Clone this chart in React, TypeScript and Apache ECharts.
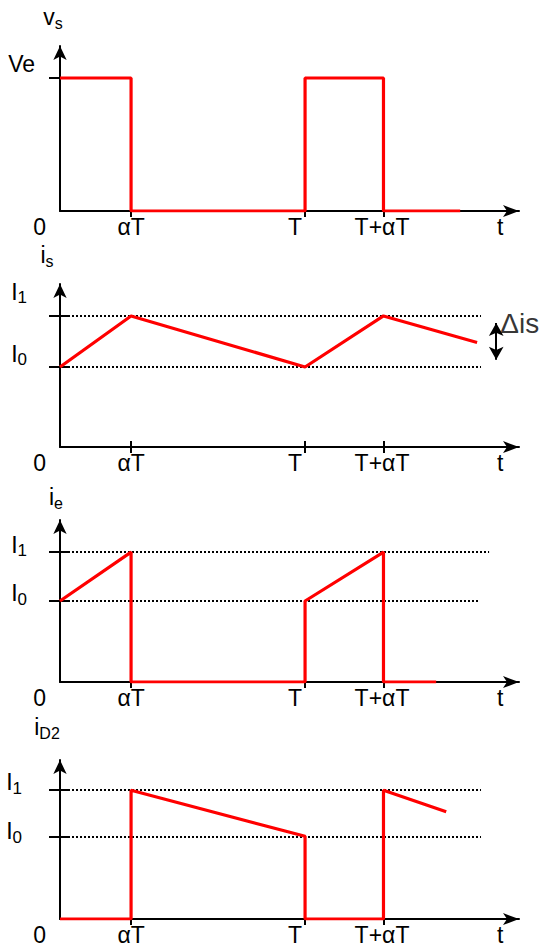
import React, { useEffect, useRef } from "react";
import * as echarts from "echarts";

const FONT = '"Liberation Sans", Arial, Helvetica, sans-serif';

// time axis (T = 1)
const xTicks = [0.29, 1, 1.32];
const xLabelPos = [0.29, 0.959, 1.314, 1.796];
const xLabels = ["αT", "T", "T+αT", "t"];
const xMax = 1.873;

// panel names
const panelNames = ["v{s|s}", "i{s|s}", "i{s|e}", "i{s|D2}"];

// vs
const vsData = [[0, 0.806], [0.29, 0.806], [0.29, 0], [1, 0], [1, 0.806], [1.32, 0.806], [1.32, 0], [1.633, 0]];
const vsTicks = [0.806];
const vsLabelPos = [0.891];
const vsLabels = ["Ve"];
const vsLevels: number[][] = [];

// is
const isData = [[0, 0.491], [0.29, 0.804], [1, 0.491], [1.32, 0.804], [1.702, 0.641]];
const isTicks = [0.491, 0.804];
const isLabelPos = [0.571, 0.951];
const isLabels = ["I{s|0}", "I{s|1}"];
const isLevels = [[0.491, 1.718], [0.804, 1.718]];
const deltaArrow = [[1.78, 0.535], [1.78, 0.761]];
const deltaLabel = [[1.78, 0.755]];

// ie
const ieData = [[0, 0.5], [0.29, 0.802], [0.29, 0], [1, 0], [1, 0.5], [1.32, 0.802], [1.32, 0], [1.535, 0]];
const ieTicks = [0.5, 0.802];
const ieLabelPos = [0.549, 0.846];
const ieLabels = ["I{s|0}", "I{s|1}"];
const ieLevels = [[0.5, 1.71], [0.802, 1.751]];

// iD2
const idData = [[0, 0], [0.29, 0], [0.29, 0.81], [1, 0.52], [1, 0], [1.32, 0], [1.32, 0.81], [1.576, 0.675]];
const idTicks = [0.52, 0.81];
const idLabelPos = [0.552, 0.859];
const idLabels = ["I{s|0}", "I{s|1}"];
const idLevels = [[0.52, 1.718], [0.81, 1.718]];

const panels = [
  { data: vsData, ticks: vsTicks, labelPos: vsLabelPos, labels: vsLabels, levels: vsLevels },
  { data: isData, ticks: isTicks, labelPos: isLabelPos, labels: isLabels, levels: isLevels },
  { data: ieData, ticks: ieTicks, labelPos: ieLabelPos, labels: ieLabels, levels: ieLevels },
  { data: idData, ticks: idTicks, labelPos: idLabelPos, labels: idLabels, levels: idLevels },
];

// layout
const gridTops = [46, 284, 520, 760];
const gridHeights = [165, 163, 162, 163];
const yLabelMargins = [25, 33, 33, 38];
const nameGaps = [18, 18, 12, 22];
const nameShift = [14, 26, 8, 26];

const rich = {
  s: { fontSize: 16, fontFamily: FONT, color: "#000", verticalAlign: "bottom" as const, padding: [0, 0, -3, 0] },
};

function buildOption() {
  const grid: any[] = [];
  const xAxis: any[] = [];
  const yAxis: any[] = [];
  const series: any[] = [];

  panels.forEach((p, g) => {
    grid.push({ left: 60, right: 23, top: gridTops[g], height: gridHeights[g] });
    xAxis.push({
      type: "value",
      gridIndex: g,
      min: 0,
      max: xMax,
      position: "bottom",
      axisLine: {
        show: true,
        onZero: false,
        symbol: ["none", "arrow"],
        symbolSize: [9, 16],
        lineStyle: { color: "#000", width: 2 },
      },
      axisTick: { show: true, customValues: xTicks, length: 6, inside: false, lineStyle: { color: "#000", width: 2 } },
      axisLabel: {
        show: true,
        customValues: xLabelPos,
        formatter: (v: number) => xLabels[xLabelPos.indexOf(v)] ?? "",
        color: "#000",
        fontSize: 23,
        fontFamily: FONT,
        margin: 4,
      },
      splitLine: { show: false },
    });
    xAxis.push({
      type: "value",
      gridIndex: g,
      min: 0,
      max: xMax,
      position: "bottom",
      axisLine: { show: false, onZero: false },
      axisTick: { show: true, customValues: xTicks, length: 6, inside: true, lineStyle: { color: "#000", width: 2 } },
      axisLabel: { show: false },
      splitLine: { show: false },
    });
    yAxis.push({
      type: "value",
      gridIndex: g,
      min: 0,
      max: 1,
      position: "left",
      name: panelNames[g],
      nameLocation: "end",
      nameGap: nameGaps[g],
      nameTextStyle: {
        color: "#000",
        fontSize: 23,
        fontFamily: FONT,
        rich,
        padding: [0, nameShift[g], 0, 0],
      },
      axisLine: {
        show: true,
        onZero: false,
        symbol: ["none", "arrow"],
        symbolSize: [10, 14],
        lineStyle: { color: "#000", width: 2 },
      },
      axisTick: { show: true, customValues: p.ticks, length: 11, inside: false, lineStyle: { color: "#000", width: 2 } },
      axisLabel: {
        show: true,
        customValues: p.labelPos,
        formatter: (v: number) => p.labels[p.labelPos.indexOf(v)] ?? "",
        color: "#000",
        fontSize: 23,
        fontFamily: FONT,
        margin: yLabelMargins[g],
        rich: { s: { ...rich.s, fontSize: 17 } },
      },
      splitLine: { show: false },
    });
    yAxis.push({
      type: "value",
      gridIndex: g,
      min: 0,
      max: 1,
      position: "left",
      axisLine: { show: false, onZero: false },
      axisTick: { show: true, customValues: g === 0 ? [] : p.ticks, length: 10, inside: true, lineStyle: { color: "#000", width: 2 } },
      axisLabel: {
        show: true,
        customValues: [0],
        formatter: () => "0",
        color: "#000",
        fontSize: 23,
        fontFamily: FONT,
        margin: 14,
        verticalAlign: "top",
        padding: [4, 0, 0, 0],
      },
      splitLine: { show: false },
    });

    const s: any = {
      type: "line",
      xAxisIndex: 2 * g,
      yAxisIndex: 2 * g,
      data: p.data,
      showSymbol: false,
      symbol: "none",
      lineStyle: { color: "#ff0000", width: 3.2 },
      z: 5,
      silent: true,
    };
    if (p.levels.length) {
      s.markLine = {
        silent: true,
        symbol: "none",
        label: { show: false },
        lineStyle: { color: "#000", type: [2, 2], width: 2 },
        z: 3,
        data: p.levels.map((l) => [{ coord: [0, l[0]] }, { coord: [l[1], l[0]] }]),
      };
    }
    series.push(s);

    if (g === 1) {
      series.push({
        type: "line",
        xAxisIndex: 2,
        yAxisIndex: 2,
        data: [],
        markLine: {
          silent: true,
          symbol: ["arrow", "arrow"],
          symbolSize: [11, 13],
          label: { show: false },
          lineStyle: { color: "#000", type: "solid", width: 2 },
          data: [[{ coord: deltaArrow[0] }, { coord: deltaArrow[1] }]],
        },
      });
      series.push({
        type: "scatter",
        xAxisIndex: 2,
        yAxisIndex: 2,
        data: deltaLabel,
        symbolSize: 0,
        silent: true,
        label: {
          show: true,
          position: "right",
          distance: 4,
          formatter: "Δis",
          color: "#000",
          fontSize: 28,
          fontFamily: FONT,
        },
      });
    }
  });

  return {
    animation: false,
    backgroundColor: "#fff",
    textStyle: { fontFamily: FONT },
    grid,
    xAxis,
    yAxis,
    series,
  };
}

export default function App() {
  const ref = useRef<HTMLDivElement>(null);
  useEffect(() => {
    if (!ref.current) return;
    const chart = echarts.init(ref.current, undefined, { renderer: "svg" });
    chart.setOption(buildOption() as any);
    return () => chart.dispose();
  }, []);
  return (
    <div
      ref={ref}
      style={{ position: "absolute", left: 0, top: 0, width: 542, height: 946, background: "#fff" }}
    />
  );
}
